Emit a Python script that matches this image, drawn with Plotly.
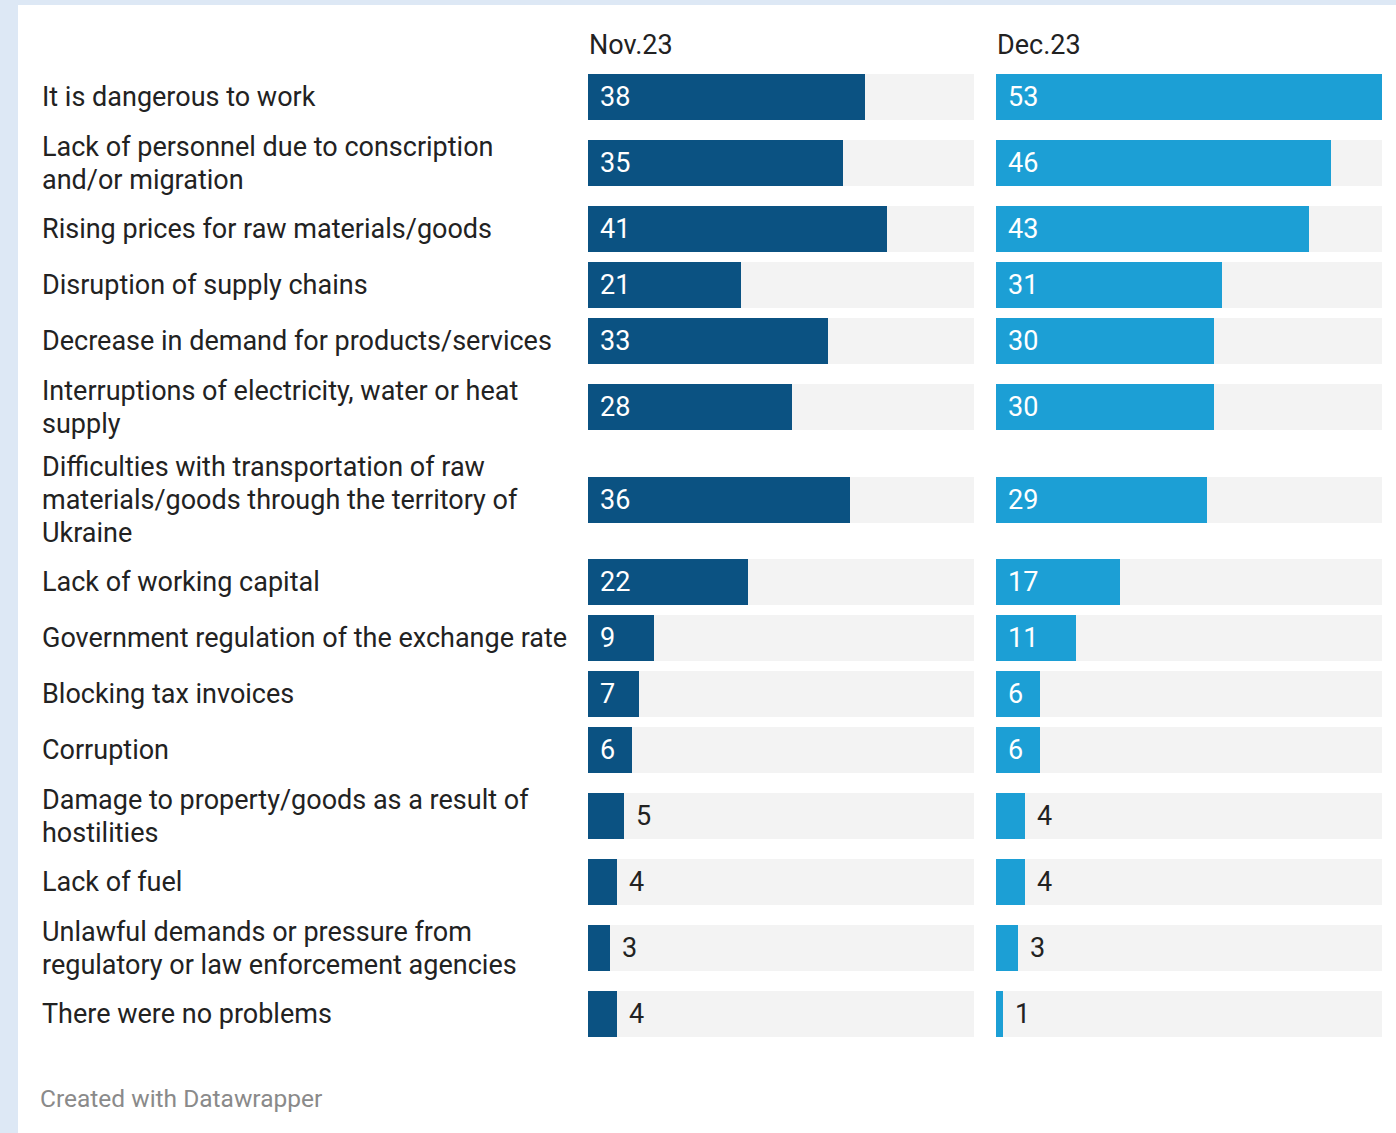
import plotly.graph_objects as go

# ---------------- data ----------------
categories = [
    "It is dangerous to work",
    "Lack of personnel due to conscription<br>and/or migration",
    "Rising prices for raw materials/goods",
    "Disruption of supply chains",
    "Decrease in demand for products/services",
    "Interruptions of electricity, water or heat<br>supply",
    "Difficulties with transportation of raw<br>materials/goods through the territory of<br>Ukraine",
    "Lack of working capital",
    "Government regulation of the exchange rate",
    "Blocking tax invoices",
    "Corruption",
    "Damage to property/goods as a result of<br>hostilities",
    "Lack of fuel",
    "Unlawful demands or pressure from<br>regulatory or law enforcement agencies",
    "There were no problems",
]
nov_values = [38, 35, 41, 21, 33, 28, 36, 22, 9, 7, 6, 5, 4, 3, 4]
dec_values = [53, 46, 43, 31, 30, 30, 29, 17, 11, 6, 6, 4, 4, 3, 1]
periods = ["Nov.23", "Dec.23"]
footer = "Created with Datawrapper"

# ---------------- style / layout ----------------
W, H = 1396, 1133
FONT = "Roboto"
TEXT_COLOR = "#222222"
COLORS = ["#0b5282", "#1c9fd5"]
BG_BAR = "#f3f3f3"
FRAME = "#dde8f5"
FS = 27
LINE_H = 33
BAR_H = 46
ROW_GAP = 10
TOP = 69
PANELS = [(588, 974), (996, 1382)]
LABEL_X = 40
INSIDE_MIN = 6

max_val = max(nov_values + dec_values)

# row centres (pixel units on a reversed y axis)
centers = []
y = TOP
for c in categories:
    n = c.count("<br>") + 1
    h = max(BAR_H, n * LINE_H) + ROW_GAP
    centers.append(y + h / 2)
    y += h

fig = go.Figure()
annotations = []
series = [nov_values, dec_values]
for i, (vals, col) in enumerate(zip(series, COLORS)):
    xa = "x" if i == 0 else "x2"
    fig.add_trace(go.Bar(
        x=[max_val] * len(vals), y=centers, orientation="h",
        width=BAR_H, marker=dict(color=BG_BAR, line=dict(width=0)),
        xaxis=xa, yaxis="y", hoverinfo="skip", showlegend=False))
    fig.add_trace(go.Bar(
        x=vals, y=centers, orientation="h",
        width=BAR_H, marker=dict(color=col, line=dict(width=0)),
        xaxis=xa, yaxis="y", showlegend=False, name=periods[i]))
    for v, yc in zip(vals, centers):
        inside = v >= INSIDE_MIN
        annotations.append(dict(
            x=0 if inside else v, y=yc, xref=xa, yref="y",
            text=str(v), showarrow=False, xanchor="left", yanchor="middle",
            xshift=10,
            font=dict(family=FONT, size=FS, color="white" if inside else TEXT_COLOR)))
    # panel header
    annotations.append(dict(
        x=(PANELS[i][0] - 1) / W, y=45, xref="paper", yref="y",
        text=periods[i], showarrow=False, xanchor="left", yanchor="middle",
        font=dict(family=FONT, size=FS, color=TEXT_COLOR)))

for c, yc in zip(categories, centers):
    lines = c.split("<br>")
    n = len(lines)
    for k, line in enumerate(lines):
        annotations.append(dict(
            x=LABEL_X / W, y=yc + (k - (n - 1) / 2) * LINE_H, xref="paper", yref="y",
            text=line, showarrow=False, xanchor="left", yanchor="middle", align="left",
            font=dict(family=FONT, size=FS, color=TEXT_COLOR)))

annotations.append(dict(
    x=38 / W, y=1098, xref="paper", yref="y", text=footer, showarrow=False,
    xanchor="left", yanchor="middle",
    font=dict(family=FONT, size=24.5, color="#8a8a8a")))

axis_common = dict(range=[0, max_val], showgrid=False, zeroline=False,
                   showticklabels=False, fixedrange=True)
fig.update_layout(
    width=W, height=H, autosize=False,
    margin=dict(l=0, r=0, t=0, b=0, pad=0),
    paper_bgcolor=FRAME, plot_bgcolor="rgba(0,0,0,0)",
    barmode="overlay", bargap=0,
    xaxis=dict(domain=[PANELS[0][0] / W, PANELS[0][1] / W], anchor="y", **axis_common),
    xaxis2=dict(domain=[PANELS[1][0] / W, PANELS[1][1] / W], anchor="y", **axis_common),
    yaxis=dict(range=[H, 0], domain=[0, 1], showgrid=False, zeroline=False,
               showticklabels=False, fixedrange=True),
    annotations=annotations,
    shapes=[dict(type="rect", xref="paper", yref="y", x0=18 / W, x1=1,
                 y0=5, y1=H, fillcolor="white", line=dict(width=0), layer="below")],
    font=dict(family=FONT, color=TEXT_COLOR),
)

fig.write_html(
    "out.html",
    config={"displayModeBar": False},
    post_script="document.body.style.margin='0';document.body.style.overflow='hidden';",
)
